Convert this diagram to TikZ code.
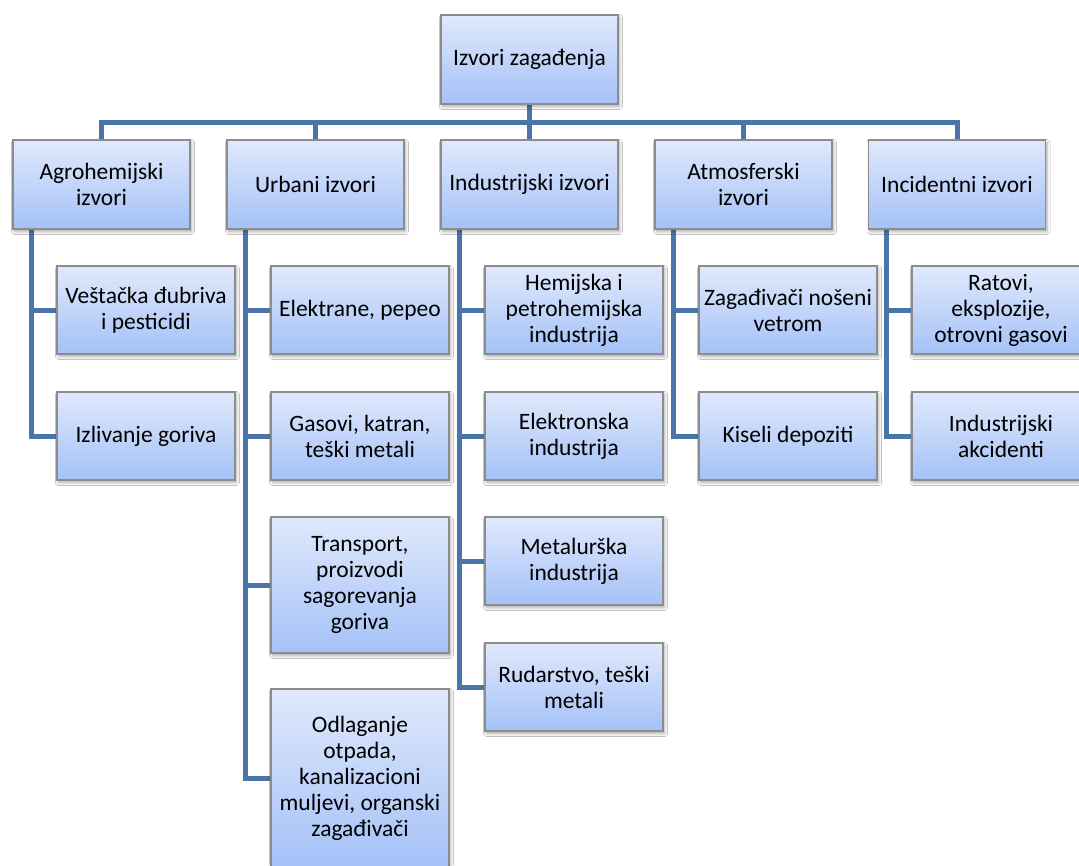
\documentclass[tikz,border=0pt]{standalone}
\usepackage{fontspec}
\setmainfont{Carlito}
\usetikzlibrary{shadows.blur,backgrounds}
\definecolor{conncol}{RGB}{74,117,169}
\definecolor{boxtop}{RGB}{224,233,252}
\definecolor{boxbot}{RGB}{164,193,247}
\definecolor{boxline}{RGB}{140,140,140}
\begin{document}
\begin{tikzpicture}[x=1pt,y=-1pt,
  box/.style={rectangle, draw=boxline, line width=1.2pt, top color=boxtop, bottom color=boxbot,
    align=center, inner sep=2pt, minimum width=177pt, minimum height=89pt,
    font=\fontsize{23.5}{26}\selectfont,
    blur shadow={shadow xshift=1.5pt, shadow yshift=-2.5pt, shadow blur radius=3pt, shadow opacity=35}},
  cbox/.style={box, minimum width=178pt, minimum height=88pt},
  conn/.style={draw=conncol, line width=5pt, line join=miter}]
\useasboundingbox (0,0) rectangle (1079,865);
% root
\node[box] (root) at (529.5,59.5) {Izvori zagađenja};
\coordinate (bar) at (0,122);
% level 1
\node[box] (agro) at (101.5,184.5) {Agrohemijski\\izvori};
\node[box] (urb) at (315.5,184.5) {Urbani izvori};
\node[box] (ind) at (529.5,184.5) {Industrijski izvori};
\node[box] (atm) at (743.5,184.5) {Atmosferski\\izvori};
\node[box] (inc) at (957,184.5) {Incidentni izvori};
% agro children
\node[cbox] (a1) at (146,310) {Veštačka đubriva\\i pesticidi};
\node[cbox] (a2) at (146,436) {Izlivanje goriva};
% urban children
\node[cbox] (u1) at (360,310) {Elektrane, pepeo};
\node[cbox] (u2) at (360,436) {Gasovi, katran,\\teški metali};
\node[cbox, minimum height=136pt] (u3) at (360,585) {Transport,\\proizvodi\\sagorevanja\\goriva};
\node[cbox, minimum height=178pt] (u4) at (360,778) {Odlaganje\\otpada,\\kanalizacioni\\muljevi, organski\\zagađivači};
% industrial children
\node[cbox] (i1) at (574,310) {Hemijska i\\petrohemijska\\industrija};
\node[cbox] (i2) at (574,436) {Elektronska\\industrija};
\node[cbox] (i3) at (574,561) {Metalurška\\industrija};
\node[cbox] (i4) at (574,687) {Rudarstvo, teški\\metali};
% atmospheric children
\node[cbox] (t1) at (788,310) {Zagađivači nošeni\\vetrom};
\node[cbox] (t2) at (788,436) {Kiseli depoziti};
% incident children
\node[cbox] (c1) at (1001,310) {Ratovi,\\eksplozije,\\otrovni gasovi};
\node[cbox] (c2) at (1001,436) {Industrijski\\akcidenti};
\begin{pgfonlayer}{background}
\fill[white] (0,0) rectangle (1079,865);
\draw[conn] (root.south) -- (root.south |- bar) -| (agro.north);
\draw[conn] (root.south) -- (root.south |- bar) -| (urb.north);
\draw[conn] (root.south) -- (ind.north);
\draw[conn] (root.south) -- (root.south |- bar) -| (atm.north);
\draw[conn] (root.south) -- (root.south |- bar) -| (inc.north);
\draw[conn] ([xshift=19pt]agro.south west) |- (a1.west);
\draw[conn] ([xshift=19pt]agro.south west) |- (a2.west);
\draw[conn] ([xshift=19pt]urb.south west) |- (u1.west);
\draw[conn] ([xshift=19pt]urb.south west) |- (u2.west);
\draw[conn] ([xshift=19pt]urb.south west) |- (u3.west);
\draw[conn] ([xshift=19pt]urb.south west) |- (u4.west);
\draw[conn] ([xshift=19pt]ind.south west) |- (i1.west);
\draw[conn] ([xshift=19pt]ind.south west) |- (i2.west);
\draw[conn] ([xshift=19pt]ind.south west) |- (i3.west);
\draw[conn] ([xshift=19pt]ind.south west) |- (i4.west);
\draw[conn] ([xshift=19pt]atm.south west) |- (t1.west);
\draw[conn] ([xshift=19pt]atm.south west) |- (t2.west);
\draw[conn] ([xshift=19pt]inc.south west) |- (c1.west);
\draw[conn] ([xshift=19pt]inc.south west) |- (c2.west);
\end{pgfonlayer}
\end{tikzpicture}
\end{document}
